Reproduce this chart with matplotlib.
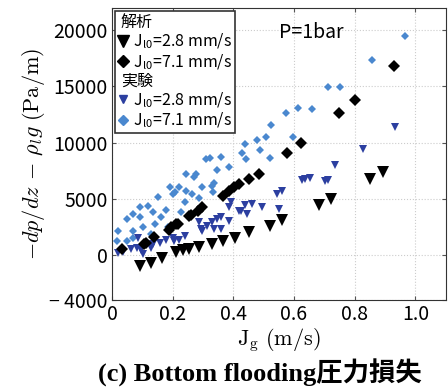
import matplotlib
matplotlib.use("Agg")
import matplotlib.pyplot as plt
from matplotlib.lines import Line2D
import numpy as np

plt.rcParams['font.family'] = ['Noto Sans CJK JP', 'DejaVu Sans']
plt.rcParams['mathtext.fontset'] = 'cm'

# analysis, J_l0 = 2.8 mm/s
ana28_x = [0.092, 0.13, 0.166, 0.211, 0.235, 0.255, 0.288, 0.331, 0.366, 0.407,
           0.453, 0.522, 0.56, 0.683, 0.723, 0.849, 0.892]
ana28_y = [-990, -690, -300, 300, 400, 510, 720, 1010, 1250, 1550,
           2000, 2600, 3110, 4480, 4990, 6780, 7370]

# analysis, J_l0 = 7.1 mm/s
ana71_x = [0.032, 0.107, 0.113, 0.14, 0.188, 0.195, 0.211, 0.216, 0.254, 0.26, 0.282,
           0.298, 0.366, 0.386, 0.402, 0.42, 0.453, 0.484, 0.577, 0.623, 0.747,
           0.80, 0.93]
ana71_y = [510, 1000, 1100, 1600, 2210, 2450, 2800, 2750, 3490, 3550, 3880,
           4240, 5290, 5730, 6090, 6300, 6720, 7230, 9080, 10010, 12600,
           13800, 16780]

# experiment, J_l0 = 2.8 mm/s
exp28_x = [0.021, 0.037, 0.064, 0.081, 0.085, 0.102, 0.096, 0.129, 0.135, 0.157,
           0.179, 0.2, 0.205, 0.222, 0.239, 0.288, 0.292, 0.297, 0.314, 0.331,
           0.336, 0.347, 0.358, 0.358, 0.386, 0.386, 0.391, 0.418, 0.424, 0.438,
           0.446, 0.46, 0.495, 0.543, 0.549, 0.56, 0.626, 0.636, 0.653, 0.702,
           0.712, 0.734, 0.827, 0.932]
exp28_y = [200, 300, 510, 650, 1550, 60, 420, 650, 960, 1100,
           1320, 1550, 1250, 1320, 1700, 2890, 2300, 2150, 2600, 2890,
           2300, 3200, 3340, 2300, 3050, 4240, 4690, 3940, 3940, 4480,
           3650, 4540, 4300, 5440, 4090, 5730, 6630, 6780, 6870, 6570,
           6690, 7970, 9470, 11410]

# experiment, J_l0 = 7.1 mm/s
exp71_x = [0.015, 0.021, 0.048, 0.048, 0.07, 0.07, 0.07, 0.092, 0.092, 0.102,
           0.119, 0.13, 0.135, 0.141, 0.151, 0.162, 0.179, 0.184, 0.19, 0.2,
           0.206, 0.222, 0.228, 0.239, 0.244, 0.244, 0.263, 0.271, 0.277, 0.288,
           0.296, 0.309, 0.322, 0.331, 0.334, 0.337, 0.347, 0.358, 0.386, 0.429,
           0.438, 0.44, 0.478, 0.488, 0.506, 0.52, 0.525, 0.573, 0.598, 0.614,
           0.658, 0.712, 0.753, 0.856, 0.965]
exp71_y = [1250, 2150, 1250, 3200, 1550, 2150, 3650, 3340, 4240, 2450,
           4390, 1850, 3790, 2800, 5200, 3340, 4000, 2450, 6030, 5440,
           5580, 6030, 3790, 4690, 5730, 7230, 5440, 6930, 7230, 5040,
           6030, 8570, 8660, 6180, 5580, 6390, 7530, 8720, 7820, 9110,
           9860, 8510, 10210, 9320, 10510, 8660, 11530, 12600, 10510, 13110,
           12960, 14940, 14940, 17380, 19470]

c_dark = '#2c3fa0'
c_light = '#4a88cf'

fig = plt.figure(figsize=(4.48, 3.92), dpi=100)
ax = fig.add_axes([0.25, 0.235, 0.745, 0.745])

ax.plot(exp71_x, exp71_y, 'D', color=c_light, markersize=4.5, markeredgewidth=0, zorder=3)
ax.plot(exp28_x, exp28_y, 'v', color=c_dark, markersize=6, markeredgewidth=0, zorder=3)
ax.plot(ana71_x, ana71_y, 'D', color='black', markersize=6.5, markeredgewidth=0, zorder=4)
ax.plot(ana28_x, ana28_y, 'v', color='black', markersize=8, markeredgewidth=0, zorder=4)

ax.set_xlim(0, 1.1)
ax.set_ylim(-4000, 22000)
ax.set_xticks([0, 0.2, 0.4, 0.6, 0.8, 1.0])
ax.set_xticklabels(['0', '0.2', '0.4', '0.6', '0.8', '1.0'])
ax.set_yticks([-4000, 0, 5000, 10000, 15000, 20000])
ax.set_yticklabels(['\u2212 4000', '0', '5000', '10000', '15000', '20000'])
ax.tick_params(direction='in', top=True, right=True, labelsize=14, length=3,
               color='#555555', pad=3)
ax.grid(True, linestyle=':', color='#cccccc', linewidth=0.8)
for s in ax.spines.values():
    s.set_color('#333333')

ax.set_xlabel(r'$\mathrm{J_g\ (m/s)}$', fontsize=16, labelpad=1)
ax.set_ylabel(r'$-dp/dz\,-\,\rho_l g\ \mathrm{(Pa/m)}$', fontsize=16, labelpad=2)

ax.text(0.552, 19800, 'P=1bar', fontsize=14, va='center', ha='left')

blank = Line2D([], [], linestyle='none', marker=None)
handles = [blank,
           Line2D([], [], linestyle='none', marker='v', color='black', markersize=8),
           Line2D([], [], linestyle='none', marker='D', color='black', markersize=6),
           blank,
           Line2D([], [], linestyle='none', marker='v', color=c_dark, markersize=6),
           Line2D([], [], linestyle='none', marker='D', color=c_light, markersize=5)]
labels = ['解析',
          r'J$_\mathregular{l0}$=2.8 mm/s',
          r'J$_\mathregular{l0}$=7.1 mm/s',
          '実験',
          r'J$_\mathregular{l0}$=2.8 mm/s',
          r'J$_\mathregular{l0}$=7.1 mm/s']
leg = ax.legend(handles, labels, loc='upper left', fontsize=11.5,
                handlelength=0.6, handletextpad=0.3, labelspacing=0.05,
                borderpad=0.2, borderaxespad=0.2, fancybox=False,
                edgecolor='#333333', framealpha=1)
leg.get_frame().set_linewidth(1.2)
for t in leg.get_texts()[0:1] + leg.get_texts()[3:4]:
    t.set_x(-12)

fig.text(0.58, 0.048, '(c) Bottom flooding圧力損失', ha='center', va='center',
         fontsize=19, fontweight='bold',
         family=['Liberation Serif', 'Noto Sans CJK JP'])

fig.savefig('out.png', dpi=100)
